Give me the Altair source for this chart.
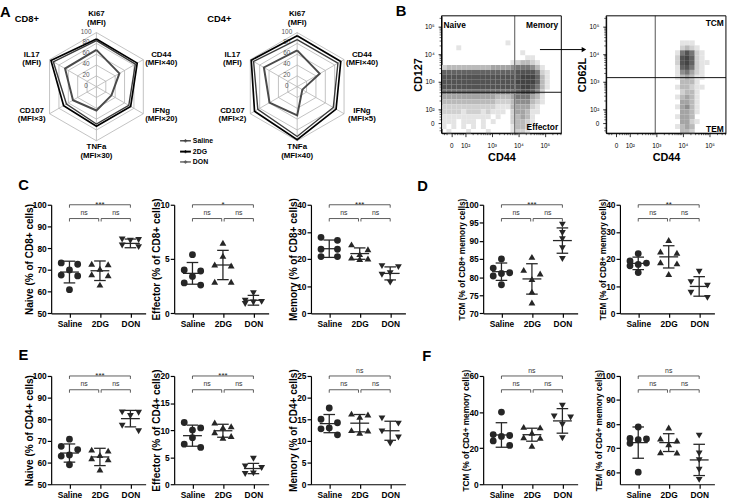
import math
import altair as alt
import pandas as pd

FONT = "Liberation Sans"
INK = "#262626"
GROUPS = ["Saline", "2DG", "DON"]

# ---------------- Panel A: radar values ----------------
SERIES = ["Saline", "2DG", "DON"]
CD8_AXIS_LABELS = ["Ki67\n(MFI)", "CD44\n(MFI×40)", "IFNg\n(MFI×20)", "TNFa\n(MFI×30)", "CD107\n(MFI×3)", "IL17\n(MFI)"]
CD4_AXIS_LABELS = ["Ki67\n(MFI)", "CD44\n(MFI×40)", "IFNg\n(MFI×5)", "TNFa\n(MFI×40)", "CD107\n(MFI×2)", "IL17\n(MFI)"]
CD8_SALINE = [85, 83, 69, 69, 64, 92]
CD8_2DG = [88, 87, 73, 73, 70, 97]
CD8_DON = [68, 49, 32, 44, 50, 67]
CD4_SALINE = [87, 87, 77, 92, 84, 93]
CD4_2DG = [94, 93, 83, 98, 91, 98]
CD4_DON = [67, 48, 11, 53, 59, 71]
RADAR_GRID = [20, 40, 60, 80, 100]
RADAR_TICKS = [0, 20, 40, 60, 80, 100]

# ---------------- Panel B: flow density (0-9) ----------------
FLOW_LEFT_DENSITY = [
    "000000000000000000000000",
    "000000000000000000000000",
    "000000000000000000000000",
    "000000000000000000000000",
    "000000000000000000000000",
    "000000000000010000000000",
    "000100000000000000000000",
    "000000000000000010000000",
    "000000000000000001100000",
    "000000000000001233210000",
    "233333333344445666531000",
    "777777777777777888862100",
    "888888888888888899973100",
    "888888888888888999973100",
    "888888888888888899863100",
    "666666666666666788752000",
    "444444444443334666431000",
    "333333333332223555321000",
    "222222222221113444210000",
    "222212221211102443110000",
    "111111111101002343100000",
    "111011101010002332100000",
    "101010101000001332000000",
    "010001000100001221000000",
]
FLOW_RIGHT_DENSITY = [
    "000000000000000000000000",
    "000000000000000000000000",
    "000000000000000000000000",
    "000000000000000000000000",
    "000000000000000000000000",
    "000000000000000111000000",
    "000000000000000232100000",
    "000000000000001686210000",
    "000000000000002897210000",
    "000000000000002897211000",
    "000000000000001786210000",
    "000000000000001564210000",
    "000000000000001343110000",
    "000000000000000333100000",
    "000000000000001332110000",
    "000000000000000233100000",
    "000000000000001343100000",
    "000000000000000443100000",
    "000000000000001453100000",
    "000000000000000443100000",
    "000000000000001443000000",
    "000000000000000442100000",
    "000000000000001343000000",
    "000000000000000332000000",
]
FLOW_LEFT_GATES = (3.863, 2.618)
FLOW_RIGHT_GATES = (2.96, 3.15)

# ---------------- Panels C-F: dot plot values ----------------
NAIVE8 = [[73.2, 72.6, 70.0, 67.2, 67.6, 60.9], [72.8, 72.6, 70.5, 68.0, 67.5, 63.2], [83.8, 84.0, 83.4, 81.2, 80.5]]
NAIVE8_MEAN, NAIVE8_SD = [69.0, 69.6, 82.2], [5.0, 4.5, 2.0]
EFF8 = [[5.4, 4.0, 3.9, 3.4, 2.8, 2.6], [6.5, 5.3, 4.5, 4.4, 2.9, 2.9], [1.85, 1.15, 1.05, 1.0, 0.85]]
EFF8_MEAN, EFF8_SD = [3.68, 4.45, 1.2], [1.0, 1.35, 0.45]
MEM8 = [[28.0, 26.9, 23.6, 23.6, 20.9, 20.9], [25.4, 23.6, 21.8, 20.0, 20.5, 20.2], [17.4, 17.0, 14.8, 14.2, 11.3]]
MEM8_MEAN, MEM8_SD = [23.8, 22.0, 14.7], [3.2, 2.1, 2.4]
TCM8 = [[85.0, 82.5, 81.2, 81.0, 80.3, 77.9], [85.6, 82.0, 81.0, 79.5, 76.0, 73.0], [94.5, 92.2, 90.5, 88.0, 85.0]]
TCM8_MEAN, TCM8_SD = [81.5, 79.5, 90.1], [2.4, 4.2, 3.5]
TEM8 = [[22.0, 19.3, 18.5, 18.0, 17.5, 15.0], [27.0, 22.8, 22.3, 18.8, 18.4, 14.5], [15.3, 11.5, 10.2, 7.6, 5.7]]
TEM8_MEAN, TEM8_SD = [18.4, 20.8, 9.9], [2.3, 4.1, 3.6]
NAIVE4 = [[70.8, 67.5, 66.0, 63.5, 63.0, 59.0], [66.0, 65.5, 63.5, 62.0, 61.5, 56.8], [83.2, 83.0, 81.5, 77.0, 74.5]]
NAIVE4_MEAN, NAIVE4_SD = [64.4, 62.6, 80.3], [4.2, 4.0, 3.8]
EFF4 = [[11.4, 10.4, 10.0, 8.6, 7.4, 6.8], [11.4, 10.7, 10.5, 9.6, 8.9, 8.6], [4.7, 3.3, 3.0, 2.0, 1.9]]
EFF4_MEAN, EFF4_SD = [8.97, 9.88, 2.9], [1.95, 1.2, 0.95]
MEM4 = [[17.6, 15.0, 14.2, 13.0, 12.8, 11.4], [16.1, 15.6, 16.3, 11.9, 12.5, 12.4], [15.2, 14.0, 12.2, 10.8, 9.4]]
MEM4_MEAN, MEM4_SD = [14.0, 14.1, 12.35], [2.1, 2.0, 2.2]
TCM4 = [[40.0, 27.5, 27.0, 26.5, 24.0, 21.5], [31.5, 31.8, 28.5, 26.0, 25.8, 21.3], [43.5, 37.5, 37.0, 33.0, 25.5]]
TCM4_MEAN, TCM4_SD = [27.3, 27.45, 35.1], [6.8, 3.6, 6.8]
TEM4 = [[78.8, 74.0, 73.8, 73.5, 72.0, 60.0], [78.6, 74.0, 73.2, 71.6, 68.3, 68.2], [75.2, 67.8, 65.0, 61.0, 56.8]]
TEM4_MEAN, TEM4_SD = [72.3, 72.3, 65.1], [6.5, 3.7, 6.5]

SIG_C = [["***", "ns", "ns"], ["*", "ns", "ns"], ["***", "ns", "ns"]]
SIG_D = [["***", "ns", "ns"], ["**", "ns", "ns"]]
SIG_E = [["***", "ns", "ns"], ["***", "ns", "ns"], ["ns", "ns", "ns"]]
SIG_F = [["ns", "ns", "ns"], ["ns", "ns", "ns"]]


# ---------------- helpers ----------------
def text_ann(t, x, y, size, weight="bold", align="center", baseline="middle", color="black"):
    return alt.Chart(pd.DataFrame({"t": [t]})).mark_text(
        fontSize=size, fontWeight=weight, align=align, baseline=baseline, color=color, font=FONT
    ).encode(x=alt.value(x), y=alt.value(y), text="t:N")


def spacer(w, h):
    return alt.Chart(pd.DataFrame({"z": [0]})).mark_point(opacity=0).encode(
        x=alt.X("z:Q", axis=None), y=alt.Y("z:Q", axis=None)
    ).properties(width=w, height=h)


# column layout (pixel x of the left edge of each dot-plot column)
COL_X = [54, 178.3, 317.3, 492.3, 630.7]
DOT_W = 96
GAPS = [COL_X[i + 1] - COL_X[i] - DOT_W for i in range(4)]

# ---------------- radar (panel A) ----------------
PXU = 0.55
R_LEFT, R_TOP, R_BOTTOM = 54, 14, 133.3
CD8_CX, CD4_CX, R_CY = 100, 304, 86
R_H = R_BOTTOM - R_TOP
OFF = (CD4_CX - CD8_CX) / PXU
rxs = alt.Scale(domain=[(R_LEFT - CD8_CX) / PXU, (R_LEFT + DOT_W - CD8_CX) / PXU], nice=False, zero=False)
rys = alt.Scale(domain=[-(R_BOTTOM - R_CY) / PXU, (R_CY - R_TOP) / PXU], nice=False, zero=False)
ANG = "PI/2 - datum.i*PI/3"


def rx(f):
    return alt.X(f, scale=rxs, axis=None)


def ry(f):
    return alt.Y(f, scale=rys, axis=None)


grid_df = pd.DataFrame([{"p": p, "lvl": L, "i": i} for p in (0, 1) for L in RADAR_GRID for i in range(7)])
grid = alt.Chart(grid_df).transform_calculate(a=ANG).transform_calculate(
    gx=f"datum.p*{OFF} + datum.lvl*cos(datum.a)", gy="datum.lvl*sin(datum.a)"
).mark_line(color="#b3b3b3", strokeWidth=0.8).encode(
    x=rx("gx:Q"), y=ry("gy:Q"), order="i:Q", detail=["p:N", "lvl:N"]
)

spoke_df = pd.DataFrame([{"p": p, "i": i} for p in (0, 1) for i in range(6)])
spokes = alt.Chart(spoke_df).transform_calculate(a=ANG).transform_calculate(
    x0=f"datum.p*{OFF}", y0="0", x1=f"datum.p*{OFF} + 100*cos(datum.a)", y1="100*sin(datum.a)"
).mark_rule(color="#b3b3b3", strokeWidth=0.8).encode(x=rx("x0:Q"), y=ry("y0:Q"), x2="x1:Q", y2="y1:Q")

tick_df = pd.DataFrame([{"p": p, "v": v} for p in (0, 1) for v in RADAR_TICKS])
rticks = alt.Chart(tick_df).transform_calculate(
    tx=f"datum.p*{OFF} - {10.5 / PXU}", ty=f"datum.v + {1 / PXU}", t="'' + datum.v"
).mark_text(fontSize=6.5, color="#555555", font=FONT).encode(x=rx("tx:Q"), y=ry("ty:Q"), text="t:N")

lab_df = pd.DataFrame([{"p": p, "i": i, "lab": labs[i]}
                       for p, labs in ((0, CD8_AXIS_LABELS), (1, CD4_AXIS_LABELS)) for i in range(6)])
rlabels = alt.Chart(lab_df).transform_calculate(a=ANG).transform_calculate(
    lx=f"datum.p*{OFF} + {76 / PXU}*cos(datum.a)",
    ly=f"sin(datum.a) > 0.99 ? {69.3 / PXU} : sin(datum.a) < -0.99 ? {-65.9 / PXU} : sin(datum.a)*{57 / PXU}",
).mark_text(fontSize=8, fontWeight="bold", lineBreak="\n", lineHeight=8.3, dy=-4.15, font=FONT,
            color="black").encode(x=rx("lx:Q"), y=ry("ly:Q"), text="lab:N")

radar_values = {
    0: {"Saline": CD8_SALINE, "2DG": CD8_2DG, "DON": CD8_DON},
    1: {"Saline": CD4_SALINE, "2DG": CD4_2DG, "DON": CD4_DON},
}
ser_df = pd.DataFrame([{"p": p, "s": s, "i": i, "v": radar_values[p][s][i % 6]}
                       for p in (0, 1) for s in SERIES for i in range(7)])
SER_COLORS = ["#3a3a3a", "#000000", "#4a4a4a"]
SER_WIDTHS = [1.4, 2.0, 1.3]
rlines = alt.Chart(ser_df).transform_calculate(a=ANG).transform_calculate(
    sx=f"datum.p*{OFF} + datum.v*cos(datum.a)", sy="datum.v*sin(datum.a)"
).mark_line().encode(
    x=rx("sx:Q"), y=ry("sy:Q"), order="i:Q", detail="p:N",
    color=alt.Color("s:N", scale=alt.Scale(domain=SERIES, range=SER_COLORS), legend=None),
    strokeWidth=alt.StrokeWidth("s:N", scale=alt.Scale(domain=SERIES, range=SER_WIDTHS), legend=None),
)

legend_layers = []
for k, s in enumerate(SERIES):
    yy = [141, 152, 162.5][k] - R_TOP
    legend_layers.append(
        alt.Chart(pd.DataFrame({"t": [s]})).mark_rule(color=SER_COLORS[k], strokeWidth=SER_WIDTHS[k]).encode(
            x=alt.value(185 - R_LEFT), x2=alt.value(196 - R_LEFT), y=alt.value(yy))
    )
    legend_layers.append(
        alt.Chart(pd.DataFrame({"t": [s]})).mark_point(shape="cross", filled=True, size=12, color=SER_COLORS[k]).encode(
            x=alt.value(190.5 - R_LEFT), y=alt.value(yy))
    )
    legend_layers.append(text_ann(s, 198 - R_LEFT, yy, 7, align="left"))

radar = alt.layer(
    grid, spokes, rticks, rlines, rlabels, *legend_layers,
    text_ann("A", 7.5 - R_LEFT, 10 - R_TOP, 15),
    text_ann("CD8+", 17 - R_LEFT, 17 - R_TOP, 9.5, align="left"),
    text_ann("CD4+", 212.7 - R_LEFT, 17 - R_TOP, 9.5, align="left"),
).properties(width=DOT_W, height=R_H)

# ---------------- flow plots (panel B) ----------------
FX = [1.111, 5.618]
FY = [1.132, 5.393]
F_W, F_H = 121.7, 119.3
CWU, CHU = 5 / 27, 5 / 28
GRAYS = ["#e4e4e4", "#d0d0d0", "#bababa", "#a4a4a4", "#8d8d8d", "#767676", "#636363", "#535353", "#444444"]
fys = alt.Scale(domain=FY, nice=False, zero=False)
MINOR = [k + math.log10(m) for k in (2, 3, 4, 5) for m in range(2, 10)]
LIN_MINOR = [1.22, 1.32, 1.62, 1.72, 1.81, 1.88, 1.94]


def flow_axis(title, zero_at, orient, offset=0):
    lab = (f"abs(datum.value - {zero_at}) < 0.001 ? '0' : datum.value == 2 ? '10²' : datum.value == 3 ? '10³' : "
           "datum.value == 4 ? '10⁴' : '10⁵'")
    return alt.Axis(
        values=[zero_at, 2, 3, 4, 5], labelExpr=lab, title=title, grid=False, labelOverlap=False,
        tickSize=3.5, tickColor="black", tickWidth=0.8, domainColor="black", domainWidth=1,
        labelFontSize=6.5, labelColor="black", labelFont=FONT, labelFlush=False,
        labelPadding=6 if orient == "x" else 4, offset=offset,
        titleFontSize=11, titleFontWeight="bold", titleColor="black", titleFont=FONT,
        titlePadding=3 if orient == "x" else 1,
    )


def flow_chart(density, gates, ytitle, abs_left, col_left, labels, extra_fn=None):
    x0 = abs_left - col_left
    x1 = x0 + F_W
    fxs = alt.Scale(domain=FX, range=[x0, x1], nice=False, zero=False)
    xax = flow_axis("CD44", 1.48, "x")
    yax = flow_axis(ytitle, 1.49, "y", offset=-x0)

    def X(f):
        return alt.X(f, scale=fxs, axis=xax)

    def Y(f):
        return alt.Y(f, scale=fys, axis=yax)

    rows = []
    for r, line in enumerate(density):
        for c, ch in enumerate(line):
            if ch != "0":
                rows.append({"x": FX[0] + c * CWU, "x2": FX[0] + (c + 1) * CWU,
                             "y": FY[1] - r * CHU, "y2": FY[1] - (r + 1) * CHU, "lvl": int(ch)})
    dens = alt.Chart(pd.DataFrame(rows)).mark_rect(strokeWidth=0).encode(
        x=X("x:Q"), x2="x2:Q", y=Y("y:Q"), y2="y2:Q",
        color=alt.Color("lvl:O", scale=alt.Scale(domain=list(range(1, 10)), range=GRAYS), legend=None),
    )
    vgate = alt.Chart(pd.DataFrame({"g": [gates[0]]})).mark_rule(color="#7a7a7a", strokeWidth=1.3).encode(
        x=X("g:Q"))
    hgate = alt.Chart(pd.DataFrame({"a": [FX[0]], "b": [FX[1]], "g": [gates[1]]})).mark_rule(
        color="#111111", strokeWidth=1).encode(x=X("a:Q"), x2="b:Q", y=Y("g:Q"))
    frame = alt.Chart(pd.DataFrame({"t": [0]})).mark_rect(fillOpacity=0, stroke="black", strokeWidth=1).encode(
        x=alt.value(x0), x2=alt.value(x1), y=alt.value(0), y2=alt.value(F_H))
    xminor = alt.Chart(pd.DataFrame({"m": [v for v in MINOR + LIN_MINOR if v < FX[1]]})).mark_rule(
        color="black", strokeWidth=0.6).encode(x=X("m:Q"), y=alt.value(F_H), y2=alt.value(F_H + 2))
    yminor = alt.Chart(pd.DataFrame({"m": [v for v in MINOR + LIN_MINOR if v < FY[1]]})).mark_rule(
        color="black", strokeWidth=0.6).encode(y=Y("m:Q"), x=alt.value(x0), x2=alt.value(x0 - 2))
    labs = [text_ann(t, x0 + x, y, 8.5, align=a) for (t, x, y, a) in labels]
    extra = extra_fn(X, Y, x0) if extra_fn else []
    return alt.layer(dens, vgate, hgate, frame, xminor, yminor, *labs, *extra).properties(width=DOT_W, height=F_H)


def arrow_layers(X, Y, x0):
    line = alt.Chart(pd.DataFrame({"x": [4.815], "x2": [6.47], "y": [4.168]})).mark_rule(
        color="black", strokeWidth=1).encode(x=X("x:Q"), x2="x2:Q", y=Y("y:Q"))
    head = alt.Chart(pd.DataFrame({"x": [6.47], "y": [4.168]})).mark_point(
        shape="triangle-right", filled=True, size=28, color="black", opacity=1).encode(x=X("x:Q"), y=Y("y:Q"))
    return [line, head, text_ann("B", x0 + (409 - 450), 9 - 14, 15)]


flow_left = flow_chart(
    FLOW_LEFT_DENSITY, FLOW_LEFT_GATES, "CD127", 450, COL_X[3],
    [("Naive", 2, 9, "left"), ("Memory", 118.5, 9, "right"), ("Effector", 118.5, 113, "right")],
    extra_fn=arrow_layers,
)
flow_right = flow_chart(
    FLOW_RIGHT_DENSITY, FLOW_RIGHT_GATES, "CD62L", 616.7, COL_X[4],
    [("TCM", 119.5, 7.7, "right"), ("TEM", 119.5, 114.8, "right")],
)

# ---------------- dot plots (panels C-F) ----------------
XD = [-0.6, 2.5]


def dot_panel(vals, means, sds, ydom, yticks, ytitle, sig, height, tfs=10.2, letter=None):
    upp = (ydom[1] - ydom[0]) / height
    xsc = alt.Scale(domain=XD, nice=False, zero=False)
    ysc = alt.Scale(domain=ydom, nice=False, zero=False)
    xaxis = alt.Axis(values=[0, 1, 2], labelExpr="datum.value == 0 ? 'Saline' : datum.value == 1 ? '2DG' : 'DON'",
                     title=None, grid=False, domainColor="black", domainWidth=1.2, tickColor="black",
                     tickWidth=1.2, tickSize=4, labelFontSize=8.5, labelFontWeight="bold", labelColor="black",
                     labelPadding=2, labelFont=FONT, labelFlush=False)
    yaxis = alt.Axis(values=yticks, title=ytitle, grid=False, domainColor="black", domainWidth=1.2,
                     tickColor="black", tickWidth=1.2, tickSize=4, labelFontSize=8.5, labelFontWeight="bold",
                     labelColor="black", labelPadding=1, labelFont=FONT, labelOverlap=False,
                     titleFontSize=tfs, titleFontWeight="bold", titleColor="black", titleFont=FONT,
                     titlePadding=-2)

    def X(f):
        return alt.X(f, scale=xsc, axis=xaxis)

    def Y(f):
        return alt.Y(f, scale=ysc, axis=yaxis)

    pts = pd.DataFrame([{"g": gi, "grp": GROUPS[gi], "value": v} for gi in range(3) for v in vals[gi]])
    srt = [alt.SortField("value", order="descending")]
    thr = 6.2 * upp
    points = alt.Chart(pts).transform_window(
        prev="lag(value)", groupby=["g"], sort=srt
    ).transform_calculate(
        newc=f"(!isValid(datum.prev) || datum.prev - datum.value > {thr}) ? 1 : 0"
    ).transform_window(
        cl="sum(newc)", groupby=["g"], sort=srt, frame=[None, 0]
    ).transform_joinaggregate(
        n="count()", groupby=["g", "cl"]
    ).transform_window(
        k="row_number()", groupby=["g", "cl"], sort=srt
    ).transform_calculate(
        slot="datum.n == 1 ? 0 : ((datum.k - 1) % 3 == 0 ? -1 : ((datum.k - 1) % 3 == 1 ? 1 : 0))"
    ).transform_calculate(
        xp="datum.g + datum.slot * 0.27"
    ).mark_point(filled=True, size=48, color=INK, opacity=1).encode(
        x=X("xp:Q"), y=Y("value:Q"),
        shape=alt.Shape("grp:N", scale=alt.Scale(domain=GROUPS, range=["circle", "triangle-up", "triangle-down"]),
                        legend=None),
    )
    ms = alt.Chart(pd.DataFrame({"g": [0, 1, 2], "m": means, "sd": sds})).transform_calculate(
        lo="datum.m - datum.sd", hi="datum.m + datum.sd", ml="datum.g - 0.31", mr="datum.g + 0.31",
        cl="datum.g - 0.19", cr="datum.g + 0.19")
    rule = dict(color=INK, strokeWidth=1.3)
    mean_l = ms.mark_rule(**rule).encode(x=X("ml:Q"), x2="mr:Q", y=Y("m:Q"))
    sd_l = ms.mark_rule(**rule).encode(x=X("g:Q"), y=Y("lo:Q"), y2="hi:Q")
    cap_h = ms.mark_rule(**rule).encode(x=X("cl:Q"), x2="cr:Q", y=Y("hi:Q"))
    cap_l = ms.mark_rule(**rule).encode(x=X("cl:Q"), x2="cr:Q", y=Y("lo:Q"))
    top = ydom[1]
    low = top - 14 * upp
    br = alt.Chart(pd.DataFrame({"x1": [0, 0, 1.04], "x2": [2, 0.96, 2], "y": [top, low, low], "lab": sig})
                   ).transform_calculate(yt=f"datum.y - {3 * upp}", xm="(datum.x1 + datum.x2) / 2")
    bl = dict(color="#333333", strokeWidth=0.8)
    br_h = br.mark_rule(**bl).encode(x=X("x1:Q"), x2="x2:Q", y=Y("y:Q"))
    br_a = br.mark_rule(**bl).encode(x=X("x1:Q"), y=Y("y:Q"), y2="yt:Q")
    br_b = br.mark_rule(**bl).encode(x=X("x2:Q"), y=Y("y:Q"), y2="yt:Q")
    br_ns = br.transform_filter("datum.lab == 'ns'").mark_text(
        fontSize=7, color="#333333", baseline="alphabetic", dy=-3.5, font=FONT).encode(
        x=X("xm:Q"), y=Y("y:Q"), text="lab:N")
    br_st = br.transform_filter("datum.lab != 'ns'").mark_text(
        fontSize=8, color="#222222", baseline="alphabetic", dy=2, font=FONT).encode(
        x=X("xm:Q"), y=Y("y:Q"), text="lab:N")
    layers = [points, mean_l, sd_l, cap_h, cap_l, br_h, br_a, br_b, br_ns, br_st]
    if letter:
        layers.append(text_ann(letter[0], letter[1], letter[2], 15))
    return alt.layer(*layers).properties(width=DOT_W, height=height)


H2, H3 = 110.3, 110.0
C1 = dot_panel(NAIVE8, NAIVE8_MEAN, NAIVE8_SD, [50, 100], [50, 60, 70, 80, 90, 100], "Naive (% of CD8+ cells)",
               SIG_C[0], H2, letter=("C", -28, -19.7))
C2 = dot_panel(EFF8, EFF8_MEAN, EFF8_SD, [0, 10], [0, 5, 10], "Effector (% of CD8+ cells)", SIG_C[1], H2)
C3 = dot_panel(MEM8, MEM8_MEAN, MEM8_SD, [0, 40], [0, 10, 20, 30, 40], "Memory (% of CD8+ cells)", SIG_C[2], H2)
D1 = dot_panel(TCM8, TCM8_MEAN, TCM8_SD, [70, 100], [70, 75, 80, 85, 90, 95, 100], "TCM (% of CD8+ memory cells)",
               SIG_D[0], H2, tfs=8.4, letter=("D", -61.5, -19.4))
D2 = dot_panel(TEM8, TEM8_MEAN, TEM8_SD, [0, 40], [0, 10, 20, 30, 40], "TEM (% of CD8+ memory cells)",
               SIG_D[1], H2, tfs=8.4)
E1 = dot_panel(NAIVE4, NAIVE4_MEAN, NAIVE4_SD, [50, 100], [50, 60, 70, 80, 90, 100], "Naive (% of CD4+ cells)",
               SIG_E[0], H3, letter=("E", -28.2, -21.5))
E2 = dot_panel(EFF4, EFF4_MEAN, EFF4_SD, [0, 20], [0, 5, 10, 15, 20], "Effector (% of CD4+ cells)", SIG_E[1], H3)
E3 = dot_panel(MEM4, MEM4_MEAN, MEM4_SD, [0, 25], [0, 5, 10, 15, 20, 25], "Memory (% of CD4+ cells)", SIG_E[2], H3)
F1 = dot_panel(TCM4, TCM4_MEAN, TCM4_SD, [0, 60], [0, 20, 40, 60], "TCM (% of CD4+ memory cells)",
               SIG_F[0], H3, tfs=8.4, letter=("F", -57.3, -20.2))
F2 = dot_panel(TEM4, TEM4_MEAN, TEM4_SD, [55, 100], [60, 70, 80, 90, 100], "TEM (% of CD4+ memory cells)",
               SIG_F[1], H3, tfs=8.4)

# ---------------- assemble (grid of 9 columns, same widths in every row) ----------------
row1 = [radar, spacer(1, R_H), spacer(1, R_H), spacer(1, R_H), spacer(1, R_H), spacer(1, R_H),
        flow_left, spacer(1, R_H), flow_right]
gap1 = [spacer(1, 204.7 - 133.3) for _ in range(9)]
row2 = [C1, spacer(GAPS[0], H2), C2, spacer(GAPS[1], H2), C3, spacer(GAPS[2], H2), D1, spacer(GAPS[3], H2), D2]
gap2 = [spacer(1, 377.7 - 315.0) for _ in range(9)]
row3 = [E1, spacer(GAPS[0], H3), E2, spacer(GAPS[1], H3), E3, spacer(GAPS[2], H3), F1, spacer(GAPS[3], H3), F2]

chart = alt.concat(
    *(row1 + gap1 + row2 + gap2 + row3),
    columns=9, spacing=0, bounds="flush", align="each",
).resolve_scale(
    color="independent", shape="independent", strokeWidth="independent"
).properties(
    padding={"left": 0, "top": 0, "right": 0, "bottom": 0}, background="white"
).configure(font=FONT).configure_view(stroke=None)

chart.save("out.html", embed_options={"renderer": "svg", "actions": False})
